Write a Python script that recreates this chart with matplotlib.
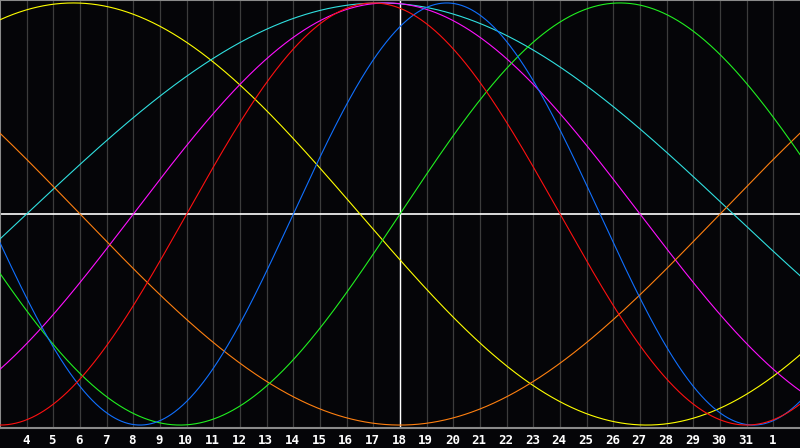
import numpy as np
import matplotlib
matplotlib.use("Agg")
import matplotlib.pyplot as plt
from matplotlib.transforms import ScaledTranslation

# days shown (3 .. 33, 32/33 = 1st/2nd of next month)
first_day = 3
last_day = 33
today = 18
day_ticks = list(range(4, 33))
day_labels = [str(d) for d in range(4, 32)] + ["1"]

# cycles: period in days, day of the upward zero crossing, colour
periods = [43, 53, 38, 48, 33, 23, 28]
zero_days = [-5.0, 4.0, 8.0, 30.0, 18.0, 14.0, 10.0]
colors = ["#ffff00", "#30e0e0", "#ff10ff", "#ff8010", "#20f020", "#1070ff", "#ff1010"]

bg = "#050508"

fig = plt.figure(figsize=(8, 4.48), dpi=100, facecolor=bg)
ax = fig.add_axes([0, 20 / 448, 1, 428 / 448])
ax.set_facecolor(bg)

d = np.linspace(first_day, last_day, 1200)
for T, d0, c in zip(periods, zero_days, colors):
    ax.plot(d, np.sin(2 * np.pi * (d - d0) / T), color=c, lw=0.8, zorder=3)

# grid
for x in day_ticks:
    ax.axvline(x, color="#3c3c3c", lw=0.9, zorder=1)
ax.axvline(today, color="white", lw=1.0, zorder=2)
ax.axhline(0, color="white", lw=1.2, zorder=2)

ax.set_xlim(first_day, last_day)
ax.set_ylim(-1.014, 1.014)
ax.set_yticks([])
ax.set_xticks(day_ticks)
ax.set_xticklabels(day_labels, color="white", fontsize=9, fontweight="bold",
                   family="DejaVu Sans Mono")
ax.tick_params(axis="x", length=0, pad=4)
off = ScaledTranslation(-1 / 100, 0, fig.dpi_scale_trans)
for lab in ax.get_xticklabels():
    lab.set_transform(lab.get_transform() + off)

for s in ["left", "top", "bottom"]:
    ax.spines[s].set_color("#8a8a8a")
    ax.spines[s].set_linewidth(1.5)
ax.spines["right"].set_visible(False)

fig.savefig("out.png", dpi=100, facecolor=bg)
